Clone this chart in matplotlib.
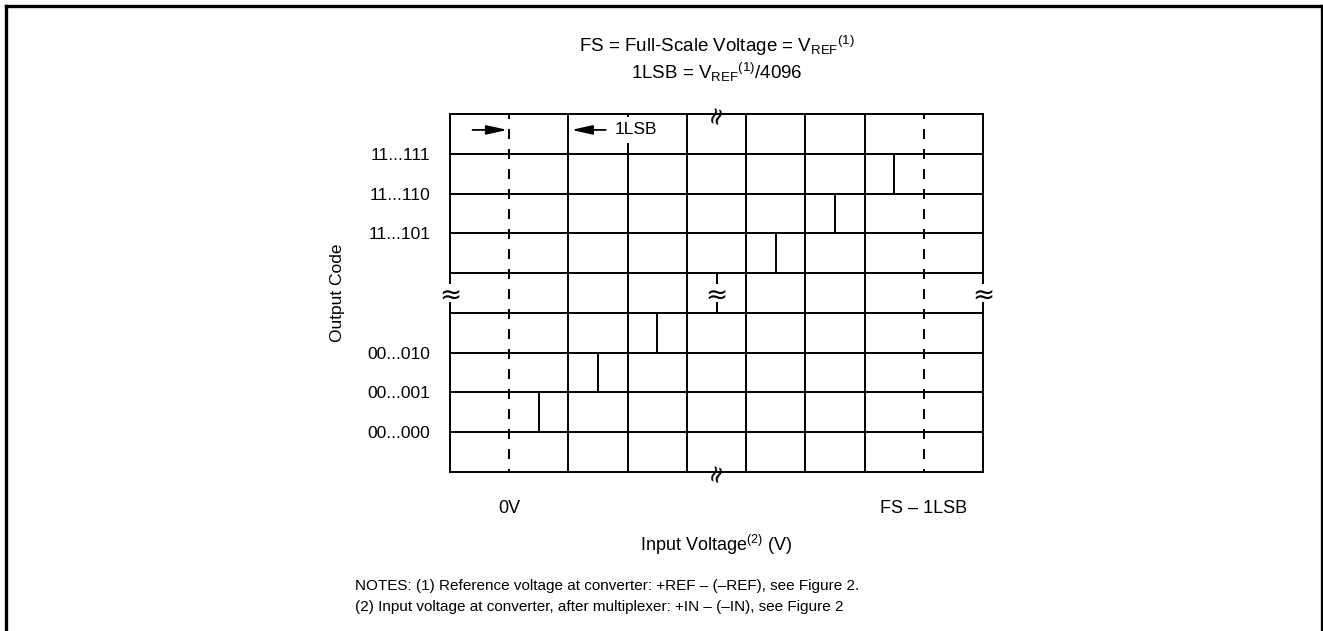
import matplotlib
matplotlib.use('Agg')
import matplotlib.pyplot as plt
from matplotlib.lines import Line2D

plt.rcParams['font.family'] = ['Liberation Sans', 'DejaVu Sans']
plt.rcParams['mathtext.fontset'] = 'custom'
plt.rcParams['mathtext.rm'] = 'Liberation Sans'
plt.rcParams['mathtext.it'] = 'Liberation Sans:italic'
plt.rcParams['lines.scale_dashes'] = False

## Chart data
code_labels = ['00...000', '00...001', '00...010', '11...101', '11...110', '11...111']
code_levels = [1, 2, 3, 6, 7, 8]
row_lines = [1, 2, 3, 4, 5, 6, 7, 8]
col_lines = [2, 3, 4, 5, 6, 7]
dashed_cols = [1, 8]
step_x = [1.5, 2.5, 3.5, 4.5, 5.5, 6.5, 7.5]
step_rows = [1, 2, 3, 4, 5, 6, 7]
volt_marks = [1, 8]
volt_labels = ['0V', 'FS \u2013 1LSB']
side_breaks_x = [0, 4.5, 9]
side_breaks_y = [4.5, 4.5, 4.5]
edge_breaks_x = [4.5, 4.5]
edge_breaks_y = [9, 0]

W, H = 1323, 631
fig = plt.figure(figsize=(W / 100, H / 100), dpi=100)
ax = fig.add_axes([450 / W, 1 - 472 / H, 533 / W, 358 / H])
ax.set_xlim(0, 9)
ax.set_ylim(0, 9)

lw = 1.4
for s in ax.spines.values():
    s.set_linewidth(lw)

# grid of the transfer function
for y in row_lines:
    ax.axhline(y, color='k', lw=lw, zorder=1)
for x in col_lines:
    ax.axvline(x, color='k', lw=lw, zorder=1)
for x in dashed_cols:
    ax.plot([x, x], [9, 0], color='k', lw=lw, linestyle=(3.6, (7.2, 7.2)), zorder=1)
for x, r in zip(step_x, step_rows):
    ax.plot([x, x], [r, r + 1], color='k', lw=lw, zorder=1)

# axis break marks: gap in the line, then the squiggle
for x, y in zip(side_breaks_x, side_breaks_y):
    ax.plot([x, x], [y - 0.22, y + 0.22], color='white', lw=4, zorder=3,
            solid_capstyle='butt', clip_on=False)
    ax.text(x, y, '\u2248', fontsize=19, family='DejaVu Sans', ha='center',
            va='center_baseline', zorder=4)
for x, y in zip(edge_breaks_x, edge_breaks_y):
    ax.text(x, y, '\u2248', fontsize=17, family='DejaVu Sans', ha='center', va='center',
            rotation=72, zorder=4)

# 1LSB arrows
arrow = dict(arrowstyle='-|>,head_length=0.9,head_width=0.2', color='k', lw=1.3,
             mutation_scale=14, shrinkA=0, shrinkB=0)
ax.annotate('', xy=(0.97, 8.6), xytext=(0.38, 8.6), arrowprops=arrow, zorder=5)
ax.annotate('', xy=(2.05, 8.6), xytext=(2.63, 8.6), arrowprops=arrow, zorder=5)
ax.text(2.78, 8.6, '1LSB', fontsize=12.5, ha='left', va='center',
        bbox=dict(boxstyle='square,pad=0.3', fc='white', ec='none'), zorder=4)

ax.set_yticks(code_levels, code_labels, fontsize=12.5)
ax.set_xticks(volt_marks, volt_labels, fontsize=13)
ax.tick_params(axis='y', length=0, pad=14)
ax.tick_params(axis='x', length=0, pad=20)

ax.set_ylabel('Output Code', fontsize=12.5, va='center')
ax.yaxis.set_label_coords(-0.212, 0.5)
ax.set_xlabel('Input Voltage$^{(2)}$ (V)', fontsize=13, va='center')
ax.xaxis.set_label_coords(0.5, -0.204)

ax.text(0.5, 1.19, 'FS = Full-Scale Voltage = V$_{\\mathrm{REF}}$$^{(1)}$', fontsize=13.5,
        ha='center', va='center', transform=ax.transAxes)
ax.text(0.5, 1.117, '1LSB = V$_{\\mathrm{REF}}$$^{(1)}$/4096', fontsize=13.5,
        ha='center', va='center', transform=ax.transAxes)

fig.text(355 / W, 1 - 586 / H,
         'NOTES: (1) Reference voltage at converter: +REF \u2013 (\u2013REF), see Figure 2.',
         fontsize=11, ha='left', va='center')
fig.text(355 / W, 1 - 607 / H,
         '(2) Input voltage at converter, after multiplexer: +IN \u2013 (\u2013IN), see Figure 2',
         fontsize=11, ha='left', va='center')

# page frame
bx0, bx1, by1 = 5.5 / W, 1321.5 / W, 1 - 5.5 / H
for xs, ys in [([bx0, bx0], [0, by1]), ([bx0, bx1], [by1, by1]), ([bx1, bx1], [by1, 0])]:
    fig.add_artist(Line2D(xs, ys, transform=fig.transFigure, color='k', lw=2.4))

fig.savefig('out.png', dpi=100)
